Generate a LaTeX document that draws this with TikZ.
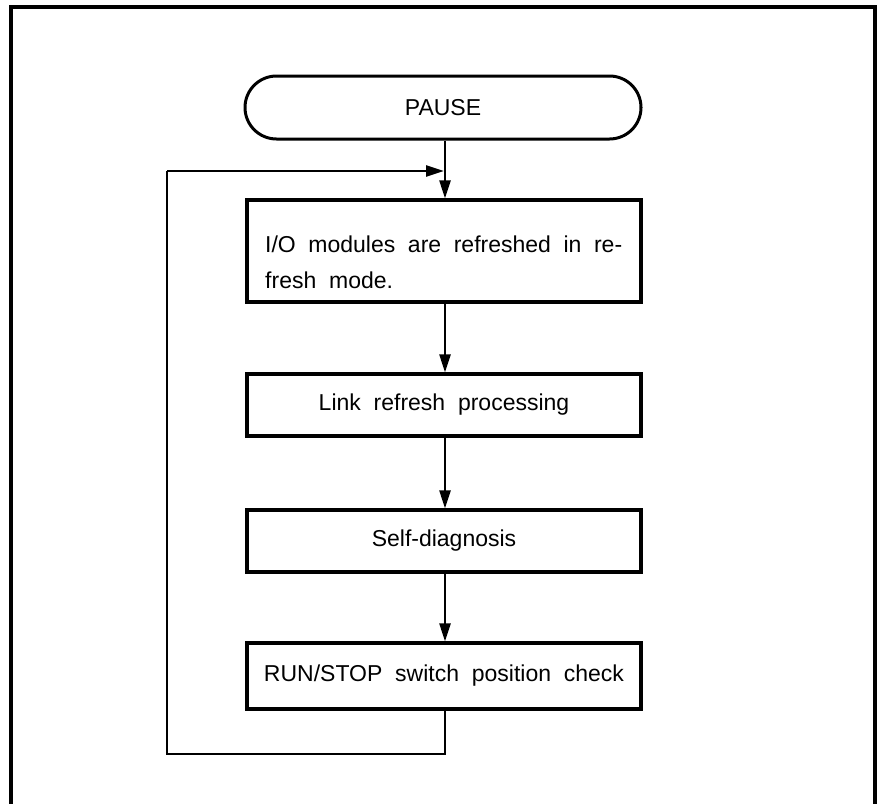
\documentclass[tikz,border=0pt]{standalone}
\usepackage{fontspec}
\setmainfont{Liberation Sans}
\usetikzlibrary{arrows.meta,shapes.misc}
\newcommand\stepfont{\fontsize{23}{36}\selectfont}
\tikzset{
  procbox/.style={draw, line width=3.2pt, minimum width=394pt, inner sep=0pt, font=\stepfont},
  termbox/.style={draw, line width=3pt, rounded rectangle, minimum width=396pt, minimum height=63pt, inner sep=0pt, font=\stepfont},
  flow/.style={line width=2.4pt, -{Triangle[length=18pt,width=11pt]}},
  plain/.style={line width=2.2pt}
}
\begin{document}
\begin{tikzpicture}[x=1pt,y=-1pt]
  \useasboundingbox (0,0) rectangle (877,803);
  % outer frame
  \draw[line width=3.5pt] (11,830) -- (11,7) -- (875,7) -- (875,830);
  % terminal
  \node[termbox] (pause) at (443,107.5) {PAUSE};
  % process steps
  \node[procbox, minimum height=102pt] (io) at (444,251) {};
  \node[font=\stepfont, align=left, anchor=west, inner sep=0pt] (iotext) at (265,262)
    {\makebox[357pt][s]{I/O modules are refreshed in re-}\\fresh\ \ mode.};
  \node[procbox, minimum height=62pt] (link) at (444,405) {Link\ \ refresh\ \ processing};
  \node[procbox, minimum height=62pt] (self) at (444,541) {Self-diagnosis};
  \node[procbox, minimum height=66pt] (run) at (444,676) {RUN/STOP\ \ switch\ \ position\ \ check};
  % connectors
  \coordinate (join) at (445,171);
  \coordinate (loopbl) at (167,754);
  \coordinate (looptl) at (167,171);
  \draw[flow] (pause.south -| join) -- (io.north -| join);
  \draw[flow] (io.south -| join) -- (link.north -| join);
  \draw[flow] (link.south -| join) -- (self.north -| join);
  \draw[flow] (self.south -| join) -- (run.north -| join);
  \draw[plain] (run.south -| join) |- (loopbl) -- (looptl);
  \draw[flow] (looptl) -- ([xshift=-1pt]join);
\end{tikzpicture}
\end{document}
